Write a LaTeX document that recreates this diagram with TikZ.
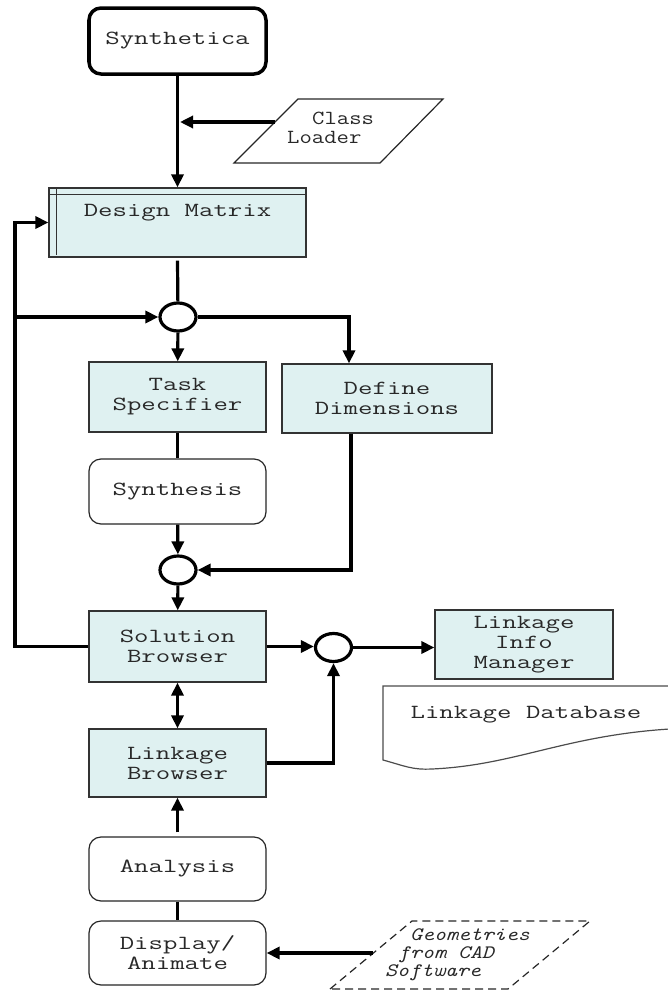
\documentclass[tikz,border=0pt]{standalone}
\usepackage{fontspec}
\setmainfont{Latin Modern Mono}[FakeStretch=1.4]
\newfontfamily\slantfont{Latin Modern Mono}[FakeStretch=1.2]
\usetikzlibrary{arrows.meta,shapes.geometric}
\definecolor{boxfill}{RGB}{223,241,241}
\definecolor{ink}{RGB}{40,40,40}
\begin{document}
\begin{tikzpicture}[x=1bp,y=-1bp,
  every node/.style={font=\fontsize{20bp}{20bp}\selectfont, text=ink, inner sep=0pt},
  tip/.style={-{Triangle[length=13bp,width=12bp]}},
  flow/.style={line width=3.2bp, tip},
  link/.style={line width=3.2bp},
  module/.style={draw=black!80, line width=1.2bp, fill=boxfill, align=center, minimum width=177bp},
  process/.style={draw=black!85, line width=1.2bp, rounded corners=12bp, fill=white, align=center, minimum width=177bp},
  junction/.style={draw, ellipse, line width=3.2bp, minimum width=36bp, minimum height=28bp},
  sidefont/.style={font=\slantfont\fontsize{20bp}{19bp}\selectfont},
]
\useasboundingbox (0,0) rectangle (668,990);

% main column
\node[process, draw=black, line width=3.5bp, minimum height=66bp] (synth) at (177.5,41) {Synthetica};
\node[module, minimum width=257bp, minimum height=69bp] (dm) at (177.5,222.5) {};
\draw[black!80, line width=0.8bp] ([yshift=-7bp]dm.north west) -- ([yshift=-7bp]dm.north east);
\draw[black!80, line width=0.8bp] ([xshift=8bp,yshift=-2bp]dm.north west) -- ([xshift=8bp,yshift=3bp]dm.south west);
\node (dmlabel) at (177.5,213) {Design Matrix};
\node[junction] (c1) at (178,317) {};
\node[module, minimum height=70bp] (ts) at (177.5,397) {Task\\Specifier};
\node[module, minimum width=210bp, minimum height=69bp] (dd) at (387,398.5) {Define\\Dimensions};
\node[process, minimum height=65bp] (syn) at (177.5,491.5) {Synthesis};
\node[junction] (c2) at (178,570) {};
\node[module, minimum height=71bp] (sb) at (177.5,646.5) {Solution\\Browser};
\node[junction] (c3) at (333.5,647.5) {};
\node[module, minimum width=178bp, minimum height=69bp] (lim) at (524,644.5) {Linkage\\Info\\Manager};
\node[module, minimum height=68bp] (lb) at (177.5,763) {Linkage\\Browser};
\node[process, minimum height=64bp] (an) at (177.5,869) {Analysis};
\node[process, minimum height=64bp] (disp) at (177.5,953) {Display/\\Animate};

% class loader input
\draw[black!85, line width=1.2bp] (234,163) -- (298,99) -- (443,99) -- (380,163) -- cycle;
\node[sidefont, align=left, anchor=west] (loader) at (287,127.5) {\hspace*{25bp}Class\\Loader};
\coordinate (loaderin) at (275,122);
\coordinate (feed) at (180,122);

% linkage database document
\draw[black!70, line width=1.2bp] (690,686) -- (383,686) -- (383,760)
  .. controls (405,766) and (412,770) .. (432,769)
  .. controls (520,765) and (570,732) .. (690,728);
\node (ldb) at (526,715) {Linkage Database};

% CAD geometry input
\draw[black!85, line width=1.2bp, dash pattern=on 8bp off 5bp] (330,989) -- (412,921) -- (590,921) -- (508,989) -- cycle;
\node[font=\slantfont\itshape\fontsize{19bp}{18bp}\selectfont, align=left, anchor=west] (geo) at (385,955)
  {\hspace*{25bp}Geometries\\\hspace*{13bp}from CAD\\Software};
\coordinate (geoin) at (373,953);

% connectors
\draw[flow] (synth) -- (dm);
\draw[flow] (loaderin) -- (feed);
\draw[link] ([yshift=-3bp]dm.south) -- (c1);
\draw[flow] (c1) -- (ts);
\draw[flow] (c1.east) -| ([xshift=-38bp]dd.north);
\draw[link] (ts) -- (syn);
\draw[flow] (syn) -- (c2);
\draw[flow] ([xshift=-36bp]dd.south) |- (c2.east);
\draw[flow] (c2) -- (sb);
\coordinate (rail) at (15,317);
\draw[flow] (sb.west) -| (rail) |- (dm.west);
\draw[flow] (rail) -- (c1.west);
\draw[flow] (sb.east) -- (sb.east -| c3.west);
\draw[flow] (c3.east) -- (c3.east -| lim.west);
\draw[line width=3.2bp, {Triangle[length=13bp,width=12bp]}-{Triangle[length=13bp,width=12bp]}] (sb) -- (lb);
\draw[flow] (lb.east) -| (c3.south);
\draw[flow] ([yshift=4bp]an.north) -- (lb);
\draw[link] (an) -- (disp);
\draw[flow] (geoin) -- (disp.east);
\end{tikzpicture}
\end{document}
